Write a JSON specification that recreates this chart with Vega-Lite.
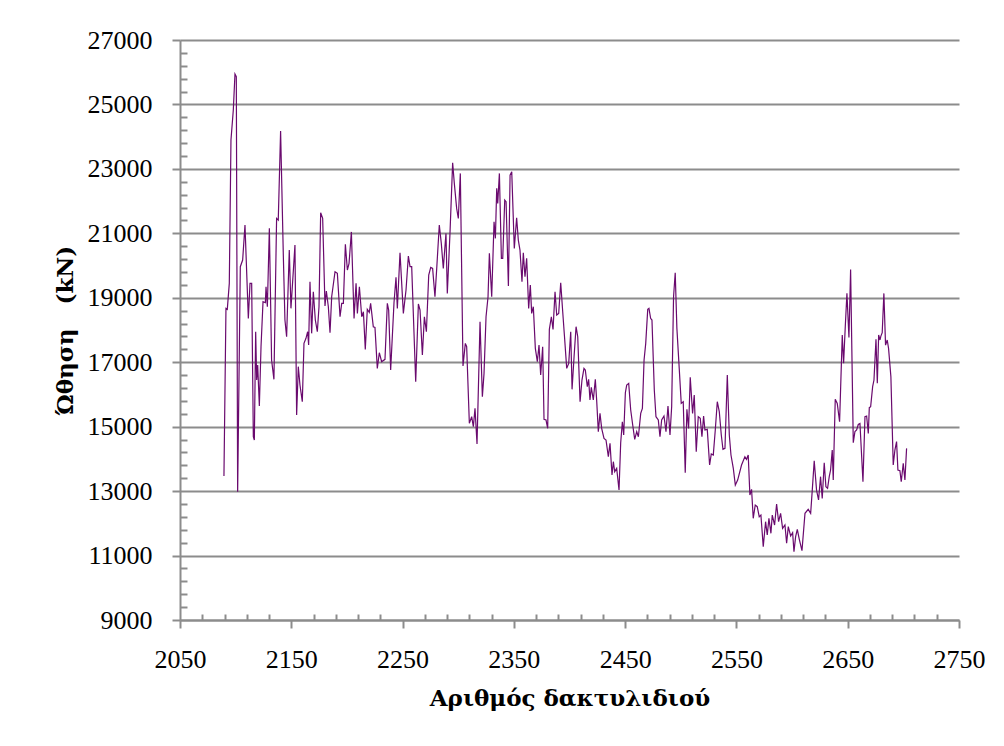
{
  "$schema": "https://vega.github.io/schema/vega-lite/v6.json",
  "width": 779,
  "height": 580,
  "autosize": {"type": "none"},
  "padding": {"left": 180, "top": 40, "right": 45, "bottom": 126},
  "background": "white",
  "config": {
    "view": {"stroke": null},
    "font": "Liberation Serif"
  },
  "data": {
    "values": [
      {"r":2089.5,"t":13469},{"r":2091.3,"t":18672},{"r":2092.5,"t":18641},{"r":2094.3,"t":19447},{"r":2095.8,"t":23895},{"r":2097.9,"t":24826},{"r":2099.4,"t":25943},{"r":2100.6,"t":25860},{"r":2101.8,"t":12983},{"r":2104.2,"t":19964},{"r":2106.3,"t":20171},{"r":2108.4,"t":21257},{"r":2111.4,"t":18361},{"r":2112.9,"t":19447},{"r":2114.4,"t":19447},{"r":2115.9,"t":14689},{"r":2116.8,"t":14586},{"r":2118.0,"t":17948},{"r":2118.9,"t":16448},{"r":2119.8,"t":16913},{"r":2121.3,"t":15641},{"r":2122.8,"t":17482},{"r":2124.6,"t":18878},{"r":2126.7,"t":18847},{"r":2127.3,"t":19344},{"r":2128.5,"t":18723},{"r":2130.3,"t":21154},{"r":2132.3,"t":17068},{"r":2134.4,"t":16468},{"r":2136.8,"t":21464},{"r":2138.3,"t":21412},{"r":2140.4,"t":24174},{"r":2142.8,"t":20378},{"r":2144.3,"t":18310},{"r":2145.8,"t":17792},{"r":2148.2,"t":20482},{"r":2149.7,"t":18672},{"r":2153.3,"t":20637},{"r":2154.8,"t":15362},{"r":2156.3,"t":16862},{"r":2157.8,"t":16293},{"r":2159.9,"t":15776},{"r":2161.4,"t":17586},{"r":2163.2,"t":17741},{"r":2164.7,"t":17948},{"r":2165.6,"t":17534},{"r":2166.8,"t":19499},{"r":2168.3,"t":17896},{"r":2169.8,"t":19189},{"r":2171.6,"t":18310},{"r":2173.4,"t":17948},{"r":2174.9,"t":18723},{"r":2176.4,"t":21640},{"r":2178.2,"t":21464},{"r":2180.3,"t":18744},{"r":2181.5,"t":19210},{"r":2183.3,"t":18723},{"r":2184.8,"t":17917},{"r":2186.3,"t":19033},{"r":2189.3,"t":19809},{"r":2191.4,"t":19757},{"r":2193.8,"t":18412},{"r":2195.3,"t":18826},{"r":2196.8,"t":18826},{"r":2198.6,"t":20657},{"r":2200.4,"t":19861},{"r":2201.9,"t":20068},{"r":2204.0,"t":21044},{"r":2206.4,"t":18361},{"r":2208.2,"t":19447},{"r":2209.4,"t":18516},{"r":2211.2,"t":19343},{"r":2213.3,"t":18412},{"r":2214.8,"t":18568},{"r":2216.5,"t":17399},{"r":2218.3,"t":18640},{"r":2220.1,"t":18547},{"r":2221.3,"t":18826},{"r":2223.7,"t":18102},{"r":2225.2,"t":18081},{"r":2227.3,"t":16809},{"r":2229.1,"t":17295},{"r":2231.2,"t":17016},{"r":2234.2,"t":17089},{"r":2236.3,"t":18826},{"r":2237.5,"t":18619},{"r":2239.3,"t":16758},{"r":2242.3,"t":18847},{"r":2244.1,"t":19633},{"r":2245.3,"t":18671},{"r":2247.7,"t":20398},{"r":2250.7,"t":18516},{"r":2253.1,"t":19240},{"r":2255.2,"t":20295},{"r":2256.7,"t":19964},{"r":2258.2,"t":19964},{"r":2261.8,"t":16396},{"r":2264.2,"t":18806},{"r":2265.7,"t":18619},{"r":2267.8,"t":17223},{"r":2269.6,"t":18412},{"r":2271.4,"t":17947},{"r":2273.5,"t":19705},{"r":2275.3,"t":19943},{"r":2277.0,"t":19912},{"r":2279.1,"t":19033},{"r":2280.6,"t":19861},{"r":2283.0,"t":21257},{"r":2284.8,"t":20688},{"r":2286.6,"t":19912},{"r":2289.0,"t":20998},{"r":2290.2,"t":19136},{"r":2292.6,"t":20998},{"r":2295.0,"t":23191},{"r":2296.5,"t":22550},{"r":2298.6,"t":21774},{"r":2300.1,"t":21464},{"r":2301.9,"t":22860},{"r":2304.3,"t":16882},{"r":2306.4,"t":17585},{"r":2307.6,"t":17482},{"r":2310.0,"t":15103},{"r":2312.1,"t":15310},{"r":2313.6,"t":15000},{"r":2315.1,"t":15568},{"r":2316.9,"t":14461},{"r":2319.6,"t":18257},{"r":2321.7,"t":15930},{"r":2323.2,"t":16654},{"r":2325.0,"t":18412},{"r":2326.8,"t":19033},{"r":2328.0,"t":20378},{"r":2330.1,"t":19033},{"r":2332.2,"t":21360},{"r":2333.4,"t":20843},{"r":2334.6,"t":22395},{"r":2335.5,"t":21929},{"r":2337.0,"t":22860},{"r":2338.8,"t":20223},{"r":2340.0,"t":20223},{"r":2341.8,"t":22033},{"r":2343.0,"t":21981},{"r":2345.1,"t":19364},{"r":2346.6,"t":22808},{"r":2348.1,"t":22912},{"r":2350.4,"t":20533},{"r":2352.5,"t":21484},{"r":2354.0,"t":20791},{"r":2355.5,"t":20481},{"r":2357.3,"t":19498},{"r":2358.5,"t":20398},{"r":2360.0,"t":19654},{"r":2361.5,"t":20223},{"r":2363.3,"t":18671},{"r":2364.8,"t":19395},{"r":2366.0,"t":18516},{"r":2367.5,"t":18723},{"r":2369.3,"t":17430},{"r":2371.1,"t":17016},{"r":2372.6,"t":17533},{"r":2374.1,"t":16602},{"r":2375.9,"t":17482},{"r":2377.1,"t":15227},{"r":2378.9,"t":15206},{"r":2380.4,"t":14948},{"r":2381.9,"t":18020},{"r":2383.7,"t":18412},{"r":2385.2,"t":18020},{"r":2387.0,"t":19188},{"r":2388.5,"t":18464},{"r":2390.3,"t":18516},{"r":2392.1,"t":19467},{"r":2393.9,"t":18568},{"r":2395.4,"t":17844},{"r":2397.5,"t":16809},{"r":2399.3,"t":16965},{"r":2401.1,"t":17947},{"r":2402.3,"t":16158},{"r":2404.1,"t":17171},{"r":2405.9,"t":18102},{"r":2407.4,"t":17792},{"r":2409.5,"t":15775},{"r":2411.2,"t":16447},{"r":2413.0,"t":16809},{"r":2414.2,"t":16758},{"r":2416.0,"t":16240},{"r":2417.2,"t":16468},{"r":2418.4,"t":15827},{"r":2419.6,"t":16220},{"r":2421.4,"t":15827},{"r":2423.2,"t":16468},{"r":2424.4,"t":15827},{"r":2425.9,"t":14844},{"r":2427.4,"t":15413},{"r":2428.9,"t":14948},{"r":2431.0,"t":14637},{"r":2432.8,"t":14586},{"r":2434.9,"t":14068},{"r":2436.4,"t":14482},{"r":2438.2,"t":13500},{"r":2439.4,"t":13913},{"r":2440.6,"t":13603},{"r":2442.4,"t":13706},{"r":2444.5,"t":13034},{"r":2446.0,"t":14503},{"r":2447.5,"t":15154},{"r":2448.7,"t":14741},{"r":2450.2,"t":16054},{"r":2451.4,"t":16292},{"r":2453.2,"t":16344},{"r":2455.0,"t":15516},{"r":2456.8,"t":15051},{"r":2458.6,"t":14606},{"r":2460.4,"t":14844},{"r":2461.9,"t":14689},{"r":2464.0,"t":15413},{"r":2465.5,"t":15568},{"r":2467.0,"t":17068},{"r":2468.5,"t":17585},{"r":2470.3,"t":18640},{"r":2471.4,"t":18671},{"r":2472.9,"t":18361},{"r":2474.1,"t":18309},{"r":2476.2,"t":16137},{"r":2477.7,"t":15309},{"r":2479.8,"t":15206},{"r":2481.3,"t":14689},{"r":2482.8,"t":15206},{"r":2484.9,"t":15330},{"r":2486.7,"t":14844},{"r":2488.5,"t":15641},{"r":2490.3,"t":14741},{"r":2491.8,"t":15620},{"r":2493.5,"t":19033},{"r":2495.0,"t":19778},{"r":2496.5,"t":18050},{"r":2498.6,"t":16809},{"r":2500.4,"t":15723},{"r":2502.2,"t":15775},{"r":2504.0,"t":13572},{"r":2505.5,"t":15537},{"r":2507.0,"t":14947},{"r":2508.5,"t":16530},{"r":2510.6,"t":15413},{"r":2512.1,"t":15982},{"r":2513.9,"t":14224},{"r":2515.7,"t":15309},{"r":2517.5,"t":15258},{"r":2519.0,"t":14689},{"r":2520.5,"t":15330},{"r":2521.7,"t":14896},{"r":2523.8,"t":14916},{"r":2525.9,"t":13810},{"r":2527.4,"t":14151},{"r":2529.2,"t":14120},{"r":2531.0,"t":14896},{"r":2532.8,"t":15775},{"r":2534.6,"t":15465},{"r":2536.4,"t":14741},{"r":2537.9,"t":14296},{"r":2539.7,"t":14327},{"r":2541.8,"t":16602},{"r":2543.6,"t":14741},{"r":2545.1,"t":14120},{"r":2547.2,"t":13706},{"r":2549.0,"t":13189},{"r":2551.1,"t":13344},{"r":2554.6,"t":13810},{"r":2557.6,"t":14068},{"r":2559.1,"t":13986},{"r":2560.6,"t":14120},{"r":2562.1,"t":12879},{"r":2563.6,"t":13055},{"r":2565.1,"t":12155},{"r":2566.9,"t":12568},{"r":2568.7,"t":12517},{"r":2570.5,"t":12206},{"r":2572.0,"t":12258},{"r":2574.1,"t":11276},{"r":2576.2,"t":12051},{"r":2577.7,"t":11638},{"r":2579.2,"t":12155},{"r":2581.0,"t":11690},{"r":2582.2,"t":12258},{"r":2584.3,"t":11948},{"r":2586.1,"t":12600},{"r":2587.9,"t":12051},{"r":2589.7,"t":12310},{"r":2591.5,"t":11845},{"r":2593.6,"t":11948},{"r":2595.1,"t":11380},{"r":2596.6,"t":11896},{"r":2598.7,"t":11607},{"r":2600.5,"t":11710},{"r":2601.7,"t":11120},{"r":2603.2,"t":11586},{"r":2604.7,"t":11814},{"r":2606.5,"t":11503},{"r":2608.9,"t":11150},{"r":2611.6,"t":12310},{"r":2614.5,"t":12434},{"r":2616.7,"t":12310},{"r":2618.2,"t":13055},{"r":2619.9,"t":13944},{"r":2622.0,"t":13030},{"r":2623.8,"t":12724},{"r":2625.6,"t":13448},{"r":2627.1,"t":12775},{"r":2628.9,"t":13882},{"r":2630.4,"t":13137},{"r":2631.9,"t":13086},{"r":2633.4,"t":13448},{"r":2634.6,"t":13655},{"r":2636.1,"t":14275},{"r":2637.0,"t":13344},{"r":2638.8,"t":15848},{"r":2640.6,"t":15723},{"r":2642.7,"t":15155},{"r":2645.1,"t":17844},{"r":2646.3,"t":16966},{"r":2647.8,"t":18102},{"r":2649.3,"t":19136},{"r":2651.1,"t":17770},{"r":2652.6,"t":19880},{"r":2655.0,"t":14503},{"r":2656.5,"t":14850},{"r":2658.0,"t":14896},{"r":2659.5,"t":15068},{"r":2661.0,"t":15100},{"r":2663.7,"t":13292},{"r":2665.5,"t":15309},{"r":2667.0,"t":15330},{"r":2668.5,"t":14787},{"r":2669.4,"t":15590},{"r":2670.6,"t":15620},{"r":2672.4,"t":16241},{"r":2673.6,"t":16448},{"r":2675.4,"t":17710},{"r":2676.6,"t":16345},{"r":2677.8,"t":17844},{"r":2679.0,"t":17690},{"r":2679.8,"t":17810},{"r":2681.0,"t":17917},{"r":2682.5,"t":19136},{"r":2684.0,"t":17530},{"r":2685.5,"t":17690},{"r":2686.7,"t":17430},{"r":2688.8,"t":16550},{"r":2690.9,"t":13810},{"r":2692.4,"t":14275},{"r":2693.9,"t":14536},{"r":2695.1,"t":13655},{"r":2696.9,"t":13634},{"r":2698.1,"t":13292},{"r":2699.9,"t":13860},{"r":2701.4,"t":13344},{"r":2702.9,"t":14327}
    ]
  },
  "mark": {"type": "line", "color": "#6a0a6e", "strokeWidth": 1.2, "interpolate": "linear"},
  "encoding": {
    "x": {
      "field": "r",
      "type": "quantitative",
      "scale": {"domain": [2050, 2750], "nice": false, "zero": false},
      "axis": {
        "title": "Αριθμός δακτυλιδιού",
        "titleFont": "DejaVu Serif",
        "titleFontSize": 23,
        "titleFontWeight": "bold",
        "titleColor": "black",
        "titlePadding": 15,
        "values": [2050,2070,2090,2110,2130,2150,2170,2190,2210,2230,2250,2270,2290,2310,2330,2350,2370,2390,2410,2430,2450,2470,2490,2510,2530,2550,2570,2590,2610,2630,2650,2670,2690,2710,2730,2750],
        "format": "d",
        "labelExpr": "(datum.value - 2050) % 100 == 0 ? datum.label : ''",
        "labelFont": "Liberation Serif",
        "labelFontSize": 26,
        "labelColor": "black",
        "labelPadding": 18,
        "labelFlush": false,
        "labelOverlap": false,
        "grid": false,
        "domainColor": "#8c8c8c",
        "domainWidth": 2,
        "tickColor": "#8c8c8c",
        "tickWidth": 2,
        "tickSize": {"condition": {"test": "(datum.value - 2050) % 100 == 0", "value": 8}, "value": -6}
      }
    },
    "y": {
      "field": "t",
      "type": "quantitative",
      "scale": {"domain": [9000, 27000], "nice": false, "zero": false},
      "axis": {
        "title": "Ώθηση\u00a0\u00a0 (kN)",
        "titleFont": "DejaVu Serif",
        "titleFontSize": 23,
        "titleFontWeight": "bold",
        "titleColor": "black",
        "titlePadding": 10,
        "values": [9000,9400,9800,10200,10600,11000,11400,11800,12200,12600,13000,13400,13800,14200,14600,15000,15400,15800,16200,16600,17000,17400,17800,18200,18600,19000,19400,19800,20200,20600,21000,21400,21800,22200,22600,23000,23400,23800,24200,24600,25000,25400,25800,26200,26600,27000],
        "format": "d",
        "labelExpr": "datum.value % 2000 == 1000 ? datum.label : ''",
        "labelFont": "Liberation Serif",
        "labelFontSize": 26,
        "labelColor": "black",
        "labelPadding": 20,
        "labelFlush": false,
        "labelOverlap": false,
        "grid": true,
        "gridColor": "#8c8c8c",
        "gridWidth": 2,
        "gridOpacity": {"condition": {"test": "datum.value % 2000 == 1000", "value": 1}, "value": 0},
        "domainColor": "#8c8c8c",
        "domainWidth": 2,
        "tickColor": "#8c8c8c",
        "tickWidth": 2,
        "tickSize": {"condition": {"test": "datum.value % 2000 == 1000", "value": 8}, "value": -7}
      }
    }
  }
}
